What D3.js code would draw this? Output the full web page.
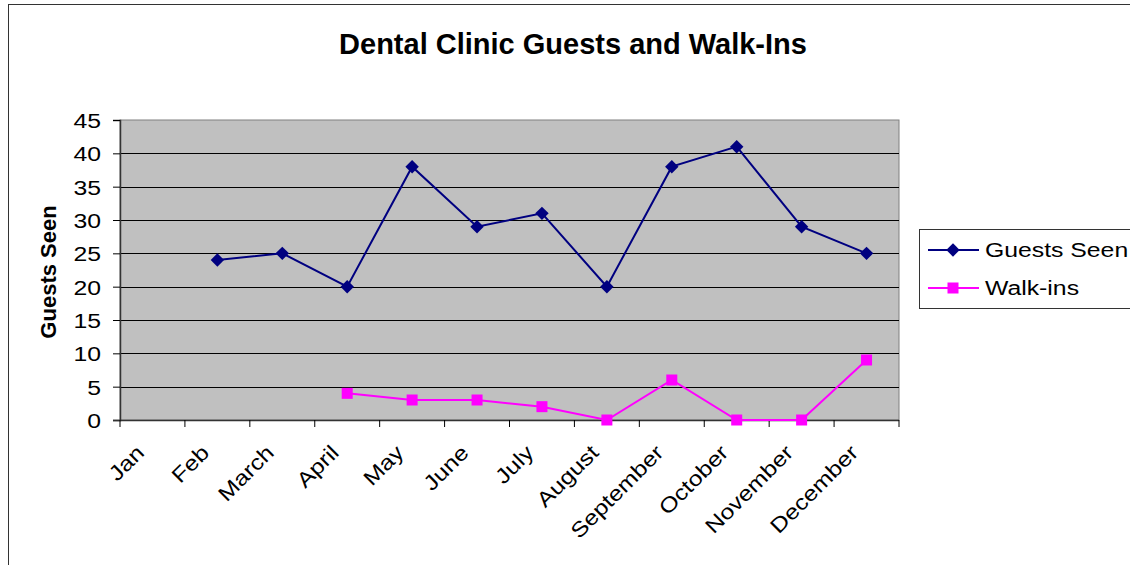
<!DOCTYPE html>
<html lang="en">
<head>
  <meta charset="UTF-8"/>
  <title>Dental Clinic Guests and Walk-Ins</title>
  <script src="https://d3js.org/d3.v7.min.js"></script>
  <style>
    body { margin: 0; background: #fff; }
    svg { font-family: "Liberation Sans", Arial, sans-serif; }
  </style>
</head>
<body>
<script>

var months = ["Jan", "Feb", "March", "April", "May", "June", "July",
              "August", "September", "October", "November", "December"];
var guestsSeen = [null, 24, 25, 20, 38, 29, 31, 20, 38, 41, 29, 25];
var walkIns = [null, null, null, 4, 3, 3, 2, 0, 6, 0, 0, 9];
var yTicks = [0, 5, 10, 15, 20, 25, 30, 35, 40, 45];

var w = 1130, h = 565;
var plotL = 120, plotR = 899, plotT = 120, plotB = 420;
var stretch = 1.18;   // the original text is drawn a bit wide

var svg = d3.select("body").append("svg")
  .attr("width", w).attr("height", h);

// chart border
svg.append("rect")
  .attr("x", 8.5).attr("y", 4.5)
  .attr("width", w + 10).attr("height", h + 10)
  .attr("fill", "#fff").attr("stroke", "#333").attr("stroke-width", 1);

var x = d3.scaleBand().domain(months).range([plotL, plotR]);
var y = d3.scaleLinear().domain([0, 45]).range([plotB, plotT]);

// plot area
svg.append("rect")
  .attr("x", plotL).attr("y", plotT)
  .attr("width", plotR - plotL).attr("height", plotB - plotT)
  .attr("fill", "#c0c0c0").attr("stroke", "#808080");

// gridlines
svg.selectAll("line.grid")
  .data(yTicks.filter(function(d) { return d > 0 && d < 45; }))
  .enter().append("line")
  .attr("class", "grid")
  .attr("x1", plotL).attr("x2", plotR)
  .attr("y1", function(d) { return Math.round(y(d)) + 0.5; })
  .attr("y2", function(d) { return Math.round(y(d)) + 0.5; })
  .attr("stroke", "#000").attr("stroke-width", 1);

// y axis
var yAxis = svg.append("g")
  .attr("transform", "translate(" + plotL + ",0)")
  .call(d3.axisLeft(y).tickValues(yTicks).tickSize(7).tickPadding(0));
yAxis.selectAll("text")
  .attr("font-size", 21).attr("fill", "#000")
  .attr("x", null).attr("dy", "0.35em")
  .attr("text-anchor", "end")
  .attr("transform", "translate(-19,0) scale(" + stretch + ",1)")
  .style("font-family", "Liberation Sans, Arial, sans-serif");
yAxis.selectAll("line").attr("stroke", "#000");
yAxis.select("path").attr("stroke", "#333").attr("stroke-width", 1.5);

// x axis with ticks on category boundaries
svg.append("line")
  .attr("x1", plotL - 7).attr("x2", plotR)
  .attr("y1", plotB + 0.5).attr("y2", plotB + 0.5)
  .attr("stroke", "#333").attr("stroke-width", 1.5);
var bounds = months.map(function(m) { return x(m); }).concat([plotR]);
svg.selectAll("line.xtick")
  .data(bounds).enter().append("line")
  .attr("class", "xtick")
  .attr("x1", function(d) { return d; }).attr("x2", function(d) { return d; })
  .attr("y1", plotB).attr("y2", plotB + 7)
  .attr("stroke", "#000");

svg.selectAll("text.xlab")
  .data(months).enter().append("text")
  .attr("class", "xlab")
  .attr("text-anchor", "end")
  .attr("font-size", 21)
  .attr("transform", function(d) {
    var cx = x(d) + x.bandwidth() / 2 - 7;
    return "translate(" + cx + "," + (plotB + 34) + ") rotate(-45) scale(" + stretch + ",1)";
  })
  .text(function(d) { return d; });

// title
svg.append("text")
  .attr("x", 573).attr("y", 54)
  .attr("text-anchor", "middle")
  .attr("font-size", 29).attr("font-weight", "bold")
  .text("Dental Clinic Guests and Walk-Ins");

// y axis title
svg.append("text")
  .attr("transform", "translate(56,272) rotate(-90)")
  .attr("text-anchor", "middle")
  .attr("font-size", 22).attr("font-weight", "bold")
  .text("Guests Seen");

var cx = function(d, i) { return x(months[i]) + x.bandwidth() / 2; };

var line = d3.line()
  .defined(function(d) { return d != null; })
  .x(cx)
  .y(function(d) { return y(d); });

// Guests Seen
svg.append("path").datum(guestsSeen)
  .attr("d", line).attr("fill", "none")
  .attr("stroke", "#000080").attr("stroke-width", 2);
guestsSeen.forEach(function(d, i) {
  if (d == null) return;
  svg.append("path")
    .attr("d", d3.symbol(d3.symbolSquare, 90)())
    .attr("transform", "translate(" + cx(d, i) + "," + y(d) + ") rotate(45)")
    .attr("fill", "#000080");
});

// Walk-ins
svg.append("path").datum(walkIns)
  .attr("d", line).attr("fill", "none")
  .attr("stroke", "#ff00ff").attr("stroke-width", 2);
walkIns.forEach(function(d, i) {
  if (d == null) return;
  svg.append("rect")
    .attr("x", cx(d, i) - 5.5).attr("y", y(d) - 5.5)
    .attr("width", 11).attr("height", 11)
    .attr("fill", "#ff00ff");
});

// legend
var lg = svg.append("g").attr("transform", "translate(919,229)");
lg.append("rect")
  .attr("x", 0.5).attr("y", 0.5).attr("width", 230).attr("height", 79)
  .attr("fill", "#fff").attr("stroke", "#333");
var series = [
  { name: "Guests Seen", color: "#000080", shape: "diamond" },
  { name: "Walk-ins", color: "#ff00ff", shape: "square" }
];
series.forEach(function(s, i) {
  var yy = 21 + i * 38;
  lg.append("line")
    .attr("x1", 9).attr("x2", 60).attr("y1", yy).attr("y2", yy)
    .attr("stroke", s.color).attr("stroke-width", 2);
  if (s.shape == "diamond") {
    lg.append("path")
      .attr("d", d3.symbol(d3.symbolSquare, 90)())
      .attr("transform", "translate(34," + yy + ") rotate(45)")
      .attr("fill", s.color);
  } else {
    lg.append("rect")
      .attr("x", 28.5).attr("y", yy - 5.5).attr("width", 11).attr("height", 11)
      .attr("fill", s.color);
  }
  lg.append("text")
    .attr("transform", "translate(66," + (yy + 7) + ") scale(" + stretch + ",1)")
    .attr("font-size", 21)
    .text(s.name);
});

</script>
</body>
</html>
